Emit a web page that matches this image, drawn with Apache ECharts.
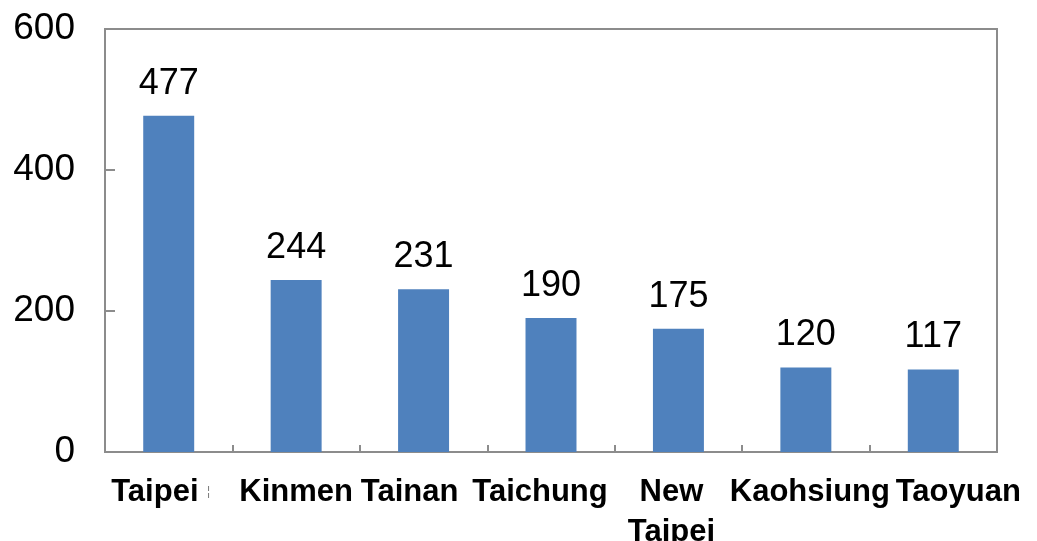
<!DOCTYPE html>
<html>
<head>
<meta charset="utf-8">
<script src="https://cdn.jsdelivr.net/npm/echarts@6/dist/echarts.min.js"></script>
<style>
  html, body { margin: 0; padding: 0; background: #fff; }
  #chart { width: 1037px; height: 541px; }
</style>
</head>
<body>
<div id="chart"></div>
<script>
// 数据
const cities = ['Taipei', 'Kinmen', 'Tainan', 'Taichung', 'New\nTaipei', 'Kaohsiung', 'Taoyuan']
const counts = [477, 244, 231, 190, 175, 120, 117]
const yTicks = [0, 200, 400, 600]

const chart = echarts.init(document.getElementById('chart'))

const axisGray = '#8c8c8c'
const font = '"Liberation Sans", Arial, sans-serif'

// 标签水平偏移（模拟原图中类目标签的挤压排布）
const labelShift = [-8, 0, -14, -11, -7, 4, 25]

const categoryData = cities.map(function (c, i) {
  const dx = labelShift[i]
  return {
    value: c,
    textStyle: {
      padding: dx >= 0 ? [0, 0, 0, dx * 2] : [0, -dx * 2, 0, 0]
    }
  }
})

const option = {
  animation: false,
  grid: {
    left: 105,
    right: 40,
    top: 29,
    bottom: 89,
    outerBoundsMode: 'none',
    containLabel: false,
    show: true,
    borderColor: axisGray,
    borderWidth: 2
  },
  xAxis: {
    type: 'category',
    data: categoryData,
    axisLine: { lineStyle: { color: axisGray, width: 2 } },
    axisTick: { show: true, inside: true, length: 7, lineStyle: { color: axisGray, width: 2 } },
    axisLabel: {
      interval: 0,
      margin: 20,
      color: '#000',
      fontFamily: font,
      fontWeight: 'bold',
      fontSize: 31,
      lineHeight: 40,
      formatter: function (v) {
        if (v === 'Taipei') return 'Taipei {m|¦}'
        return v
      },
      rich: {
        m: { fontSize: 12, color: '#777', fontWeight: 'normal' }
      }
    }
  },
  yAxis: {
    type: 'value',
    min: yTicks[0],
    max: yTicks[yTicks.length - 1],
    interval: 200,
    splitLine: { show: false },
    axisLine: { show: true, lineStyle: { color: axisGray, width: 2 } },
    axisTick: { show: true, inside: true, length: 10, lineStyle: { color: axisGray, width: 2 } },
    axisLabel: {
      margin: 30,
      color: '#000',
      fontFamily: font,
      fontSize: 37
    }
  },
  series: [
    {
      type: 'bar',
      data: counts,
      barWidth: '40%',
      itemStyle: { color: '#4F81BD' },
      label: {
        show: true,
        position: 'top',
        distance: 14,
        color: '#000',
        fontFamily: font,
        fontSize: 36
      }
    }
  ]
}

chart.setOption(option)
</script>
</body>
</html>
